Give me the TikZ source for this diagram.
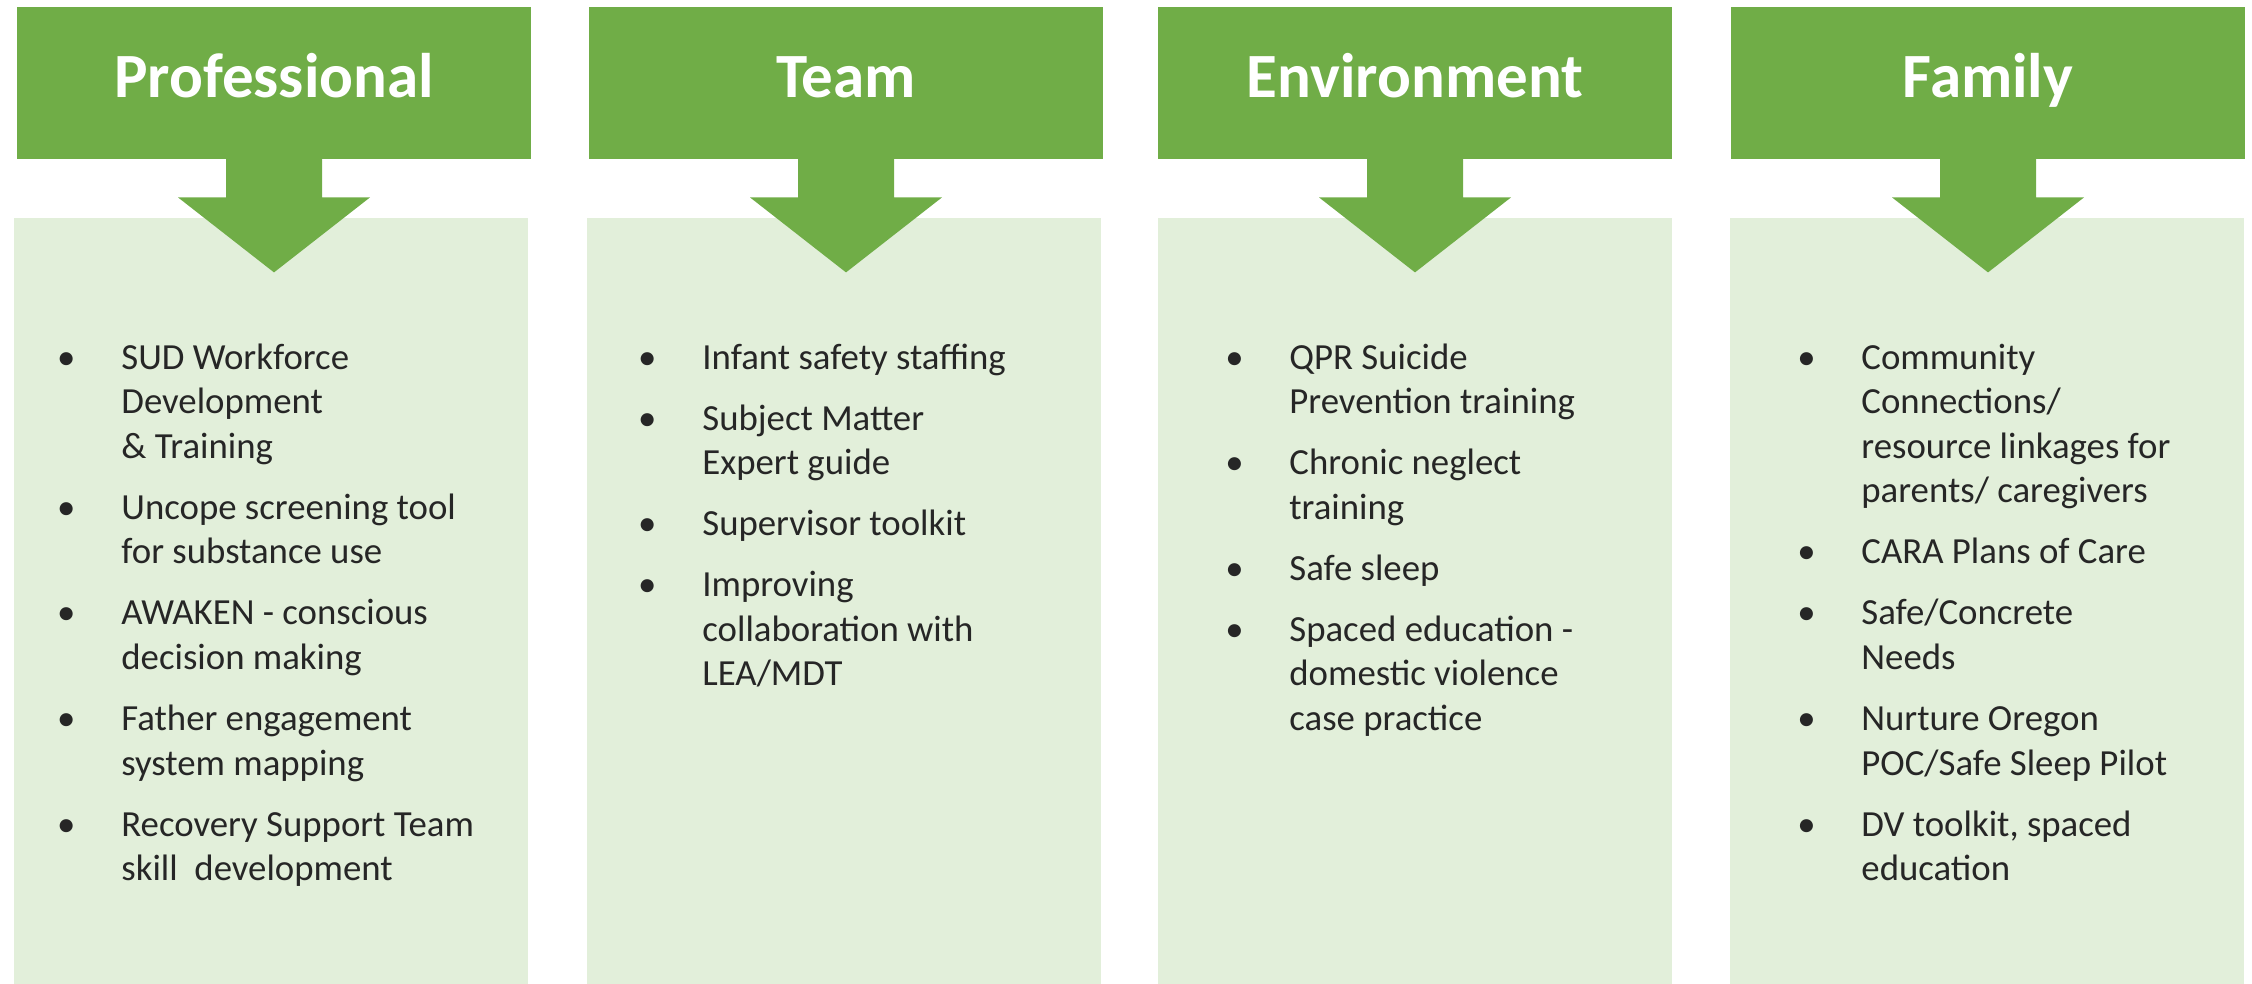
\documentclass[tikz,border=0pt]{standalone}
\usepackage{fontspec}
\setmainfont{Carlito}
\usepackage{tikz}
\usetikzlibrary{calc}
\definecolor{hdgreen}{HTML}{70AD47}
\definecolor{boxgreen}{HTML}{E2EFDA}
\definecolor{itemtext}{HTML}{262626}
\newcommand{\bul}{\makebox[0pt]{\textbullet}}

\begin{document}
\begin{tikzpicture}[x=0.5pt,y=-0.5pt,
    header/.style={rectangle,fill=hdgreen,text=white,inner sep=0pt,
      minimum width=257pt,minimum height=76pt,
      font=\fontsize{31.5pt}{36pt}\selectfont\bfseries,
      text height=23pt,text depth=8pt},
    panel/.style={rectangle,fill=boxgreen,inner sep=0pt,
      minimum width=257pt,minimum height=383pt},
    items/.style={anchor=base west,inner sep=0pt,text=itemtext,
      font=\fontsize{18.4pt}{22.3pt}\selectfont}]
  \useasboundingbox (0,0) rectangle (2252,984);
  % light panels
  \node[panel] (p1) at (271,601) {};
  \node[panel] (p2) at (844,601) {};
  \node[panel] (p3) at (1415,601) {};
  \node[panel] (p4) at (1987,601) {};
  % headers
  \node[header] (h1) at (274,83) {Professional};
  \node[header] (h2) at (846,83) {Team};
  \node[header] (h3) at (1415,83) {Environment};
  \node[header] (h4) at (1988,83) {Family};
  % block arrows
  \foreach \h in {h1,h2,h3,h4}
    \fill[hdgreen] ($(\h.south)+(-48,-1)$) -- ++(0,39) -- ++(-48,0)
      -- ++(96,75) -- ++(96,-75) -- ++(-48,0) -- ++(0,-39) -- cycle;
  % lists
  \node[items] (l1) at (66,369) {\begin{tabular}[t]{@{}l@{\hspace{27.5pt}}l@{}}
    \bul & SUD Workforce\\
    & Development\\
    & \& Training\\[8.2pt]
    \bul & Uncope screening tool\\
    & for substance use\\[8.2pt]
    \bul & AWAKEN - conscious\\
    & decision making\\[8.2pt]
    \bul & Father engagement\\
    & system mapping\\[8.2pt]
    \bul & Recovery Support Team\\
    & skill\ \ development
  \end{tabular}};
  \node[items] (l2) at (647,369) {\begin{tabular}[t]{@{}l@{\hspace{27.5pt}}l@{}}
    \bul & Infant safety staffing\\[8.2pt]
    \bul & Subject Matter\\
    & Expert guide\\[8.2pt]
    \bul & Supervisor toolkit\\[8.2pt]
    \bul & Improving\\
    & collaboration with\\
    & LEA/MDT
  \end{tabular}};
  \node[items] (l3) at (1234,369) {\begin{tabular}[t]{@{}l@{\hspace{27.5pt}}l@{}}
    \bul & QPR Suicide\\
    & Prevention training\\[8.2pt]
    \bul & Chronic neglect\\
    & training\\[8.2pt]
    \bul & Safe sleep\\[8.2pt]
    \bul & Spaced education -\\
    & domestic violence\\
    & case practice
  \end{tabular}};
  \node[items] (l4) at (1806,369) {\begin{tabular}[t]{@{}l@{\hspace{27.5pt}}l@{}}
    \bul & Community\\
    & Connections/\\
    & resource linkages for\\
    & parents/ caregivers\\[8.2pt]
    \bul & CARA Plans of Care\\[8.2pt]
    \bul & Safe/Concrete\\
    & Needs\\[8.2pt]
    \bul & Nurture Oregon\\
    & POC/Safe Sleep Pilot\\[8.2pt]
    \bul & DV toolkit, spaced\\
    & education
  \end{tabular}};
\end{tikzpicture}
\end{document}
